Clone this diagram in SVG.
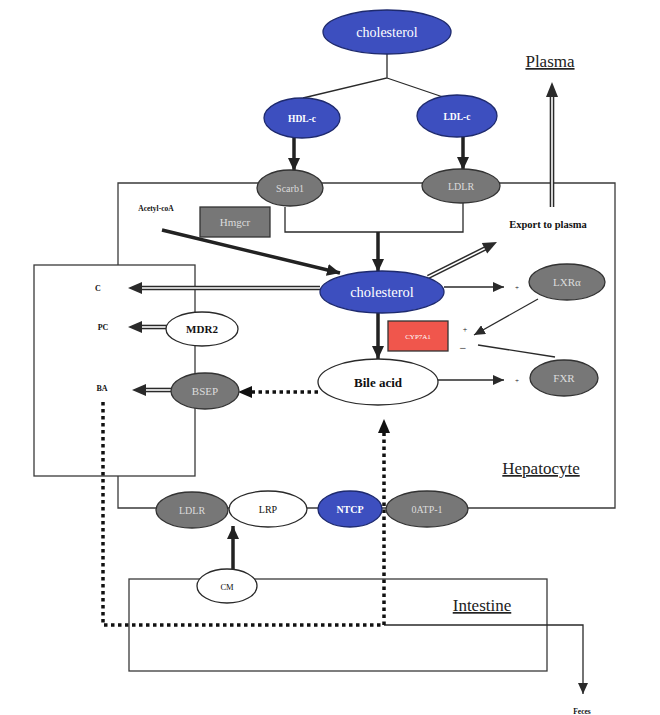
<svg xmlns="http://www.w3.org/2000/svg" width="660" height="715" viewBox="0 0 660 715">
  <defs>
    <style>
      text { font-family: "Liberation Serif", "Times New Roman", serif; text-anchor: middle; }
      .frame { fill: none; stroke: #3a3a3a; stroke-width: 1.3; }
      .blue { fill: #3d4fbf; stroke: #1e2a6e; stroke-width: 1.3; }
      .gray { fill: #777777; stroke: #333333; stroke-width: 1.3; }
      .white { fill: #ffffff; stroke: #2a2a2a; stroke-width: 1.3; }
      .thick { fill: none; stroke: #222222; stroke-width: 3.5; marker-end: url(#headThick); }
      .thin { fill: none; stroke: #2a2a2a; stroke-width: 1.3; marker-end: url(#headThin); }
      .plain { fill: none; stroke: #2a2a2a; stroke-width: 1.3; }
      .dots { fill: none; stroke: #111111; stroke-width: 3.5; stroke-dasharray: 3.5 3.5; }
      .dbl-out { fill: none; stroke: #2a2a2a; stroke-width: 4.6; }
      .dbl-in { fill: none; stroke: #ffffff; stroke-width: 1.6; }
      .head { fill: #2a2a2a; }
      .wt { fill: #ffffff; }
      .lt { fill: #dcdcdc; }
      .bk { fill: #111111; }
      .b { font-weight: bold; }
      .title { font-size: 17px; fill: #222222; text-decoration: underline; }
    </style>
    <marker id="headThick" markerUnits="userSpaceOnUse" markerWidth="14" markerHeight="12" refX="13" refY="6" orient="auto">
      <path d="M0,0 L13,6 L0,12 Z" fill="#222222"/>
    </marker>
    <marker id="headThin" markerUnits="userSpaceOnUse" markerWidth="12" markerHeight="10" refX="11" refY="5" orient="auto">
      <path d="M0,0 L11,5 L0,10 Z" fill="#2a2a2a"/>
    </marker>
    <marker id="headDot" markerUnits="userSpaceOnUse" markerWidth="14" markerHeight="12" refX="13" refY="6" orient="auto">
      <path d="M0,0 L13,6 L0,12 Z" fill="#111111"/>
    </marker>
  </defs>

  <!-- compartment outlines -->
  <g id="compartments">
    <path class="frame" d="M118,265 V183 H615 V508 H118 V476"/>
    <rect class="frame" x="34" y="265" width="161" height="211"/>
    <rect class="frame" x="129" y="579" width="418" height="92"/>
    <path class="plain" d="M285,207 V232 H463 V203"/>
    <text class="title" x="550" y="67" font-size="16">Plasma</text>
    <text class="title" x="541" y="474">Hepatocyte</text>
    <text class="title" x="482" y="611">Intestine</text>
  </g>

  <!-- connectors -->
  <g id="connectors">
    <path class="plain" d="M387,54 V78 L303,98 M387,78 L443,97"/>
    <line class="thick" x1="294" y1="138" x2="294" y2="171"/>
    <line class="thick" x1="463" y1="137" x2="463" y2="170"/>
    <line class="thick" x1="378" y1="232" x2="378" y2="272"/>
    <line class="thick" x1="162" y1="230" x2="340" y2="273"/>
    <line class="thick" x1="378" y1="313" x2="378" y2="359"/>
    <line class="thick" x1="233" y1="569" x2="233" y2="526"/>

    <line class="thin" x1="444" y1="287" x2="504" y2="287"/>
    <line class="thin" x1="438" y1="380" x2="504" y2="380"/>
    <line class="thin" x1="538" y1="299" x2="474" y2="335"/>
    <line class="plain" x1="555" y1="357" x2="478" y2="345"/>
    <path class="thin" d="M384,625 H583 V694"/>

    <!-- hollow double-line arrows -->
    <line class="dbl-out" x1="320" y1="288" x2="141" y2="288"/>
    <line class="dbl-in" x1="322" y1="288" x2="141" y2="288"/>
    <polygon class="head" points="128,288 142,282 142,294"/>

    <line class="dbl-out" x1="167" y1="327" x2="140" y2="327"/>
    <line class="dbl-in" x1="167" y1="327" x2="140" y2="327"/>
    <polygon class="head" points="128,327 142,321 142,333"/>

    <line class="dbl-out" x1="171" y1="390" x2="144" y2="390"/>
    <line class="dbl-in" x1="171" y1="390" x2="144" y2="390"/>
    <polygon class="head" points="132,390 146,384 146,396"/>

    <line class="dbl-out" x1="428" y1="277" x2="486" y2="248"/>
    <line class="dbl-in" x1="428" y1="277" x2="486" y2="248"/>
    <polygon class="head" points="497,242 481.8,243 487.2,253.6"/>

    <line class="dbl-out" x1="552" y1="207" x2="552" y2="95"/>
    <line class="dbl-in" x1="552" y1="207" x2="552" y2="95"/>
    <polygon class="head" points="552,82 546,97 558,97"/>

    <!-- dotted bile acid routes -->
    <path class="dots" d="M103,402 V625 H384 V424"/>
    <polygon fill="#111111" points="384,419 378,433 390,433"/>
    <line class="dots" x1="318" y1="392" x2="250" y2="392"/>
    <polygon fill="#111111" points="238,392 252,386 252,398"/>
  </g>

  <!-- nodes -->
  <g id="cholesterol-plasma">
    <ellipse class="blue" cx="387" cy="32" rx="64" ry="22"/>
    <text class="wt" x="387" y="37" font-size="14">cholesterol</text>
  </g>
  <g id="hdl-c">
    <ellipse class="blue" cx="302" cy="118" rx="38" ry="20"/>
    <text class="wt b" x="302" y="122" font-size="9.5">HDL-c</text>
  </g>
  <g id="ldl-c">
    <ellipse class="blue" cx="457" cy="116" rx="40" ry="21"/>
    <text class="wt b" x="457" y="120" font-size="9.5">LDL-c</text>
  </g>
  <g id="scarb1">
    <ellipse class="gray" cx="290" cy="188" rx="33" ry="18"/>
    <text class="lt" x="290" y="192" font-size="10">Scarb1</text>
  </g>
  <g id="ldlr-top">
    <ellipse class="gray" cx="461" cy="186" rx="39" ry="17"/>
    <text class="lt" x="461" y="190" font-size="10">LDLR</text>
  </g>
  <g id="acetyl-coa">
    <text class="bk b" x="156" y="211" font-size="7.5">Acetyl-coA</text>
  </g>
  <g id="hmgcr">
    <rect x="200" y="207" width="70" height="30" fill="#777777" stroke="#333333" stroke-width="1.3"/>
    <text class="lt" x="235" y="226" font-size="11">Hmgcr</text>
  </g>
  <g id="export">
    <text class="bk b" x="548" y="228" font-size="10.5">Export to plasma</text>
  </g>
  <g id="cholesterol-liver">
    <ellipse class="blue" cx="382" cy="292" rx="62" ry="21"/>
    <text class="wt" x="382" y="297" font-size="14.5">cholesterol</text>
  </g>
  <g id="lxr">
    <ellipse class="gray" cx="567" cy="282" rx="38" ry="18"/>
    <text class="lt" x="567" y="286" font-size="11">LXRα</text>
    <text class="bk" x="517" y="290" font-size="7">+</text>
  </g>
  <g id="cyp7a1">
    <rect x="388" y="321" width="60" height="30" fill="#f0564c" stroke="#333333" stroke-width="1.3"/>
    <text class="wt" x="418" y="339" font-size="7">CYP7A1</text>
    <text class="bk" x="465" y="332" font-size="8">+</text>
    <text class="bk" x="463" y="352" font-size="12">−</text>
  </g>
  <g id="bile-acid">
    <ellipse class="white" cx="378" cy="382" rx="60" ry="23"/>
    <text class="bk b" x="378" y="387" font-size="13">Bile acid</text>
  </g>
  <g id="fxr">
    <ellipse class="gray" cx="564" cy="378" rx="34" ry="18"/>
    <text class="lt" x="564" y="382" font-size="11">FXR</text>
    <text class="bk" x="517" y="383" font-size="7">+</text>
  </g>
  <g id="canalicular">
    <text class="bk b" x="98" y="291" font-size="8">C</text>
    <text class="bk b" x="103" y="330" font-size="8">PC</text>
    <text class="bk b" x="102" y="391" font-size="8">BA</text>
  </g>
  <g id="mdr2">
    <ellipse class="white" cx="202" cy="329" rx="36" ry="17"/>
    <text class="bk b" x="202" y="333" font-size="11">MDR2</text>
  </g>
  <g id="bsep">
    <ellipse class="gray" cx="205" cy="391" rx="34" ry="18"/>
    <text class="lt" x="205" y="395" font-size="11">BSEP</text>
  </g>
  <g id="ldlr-basal">
    <ellipse class="gray" cx="192" cy="510" rx="36" ry="18"/>
    <text class="lt" x="192" y="514" font-size="10">LDLR</text>
  </g>
  <g id="lrp">
    <ellipse class="white" cx="268" cy="509" rx="39" ry="18"/>
    <text class="bk" x="268" y="513" font-size="10">LRP</text>
  </g>
  <g id="ntcp">
    <ellipse class="blue" cx="350" cy="509" rx="32" ry="18"/>
    <text class="wt b" x="350" y="513" font-size="10">NTCP</text>
  </g>
  <g id="oatp1">
    <ellipse class="gray" cx="427" cy="509" rx="41" ry="18"/>
    <text class="lt" x="427" y="513" font-size="10">0ATP-1</text>
  </g>
  <g id="cm">
    <ellipse class="white" cx="227" cy="586" rx="30" ry="17"/>
    <text class="bk" x="227" y="590" font-size="8.5">CM</text>
  </g>
  <g id="feces">
    <text class="bk b" x="582" y="714" font-size="7.5">Feces</text>
  </g>
</svg>
